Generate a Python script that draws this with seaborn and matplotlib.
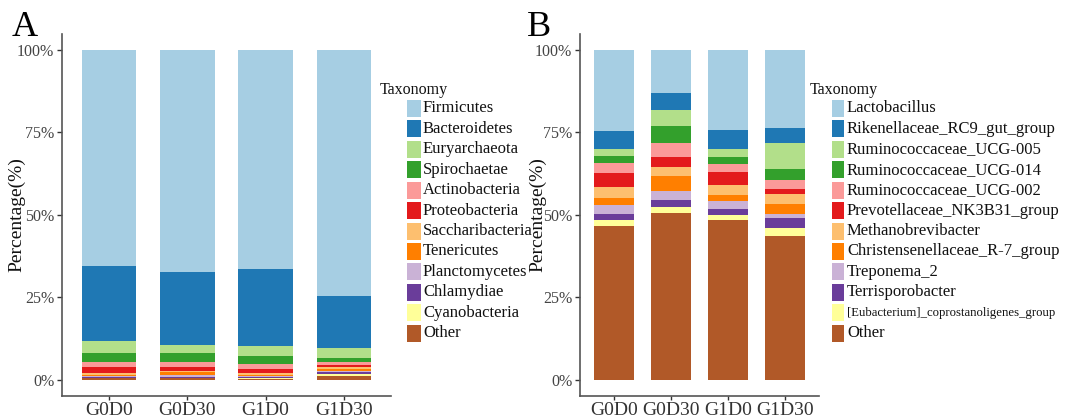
import numpy as np
import pandas as pd
import matplotlib
matplotlib.use("Agg")
import matplotlib.pyplot as plt
from matplotlib.patches import Rectangle
import seaborn as sns

# ---- data -------------------------------------------------------------
groups = ["G0D0", "G0D30", "G1D0", "G1D30"]

phyla = ["Firmicutes", "Bacteroidetes", "Euryarchaeota", "Spirochaetae",
         "Actinobacteria", "Proteobacteria", "Saccharibacteria", "Tenericutes",
         "Planctomycetes", "Chlamydiae", "Cyanobacteria", "Other"]
phylum_G0D0 = [65.4, 22.9, 3.6, 2.9, 1.5, 1.8, 0.4, 0.3, 0.5, 0.2, 0.1, 0.4]
phylum_G0D30 = [67.4, 22.0, 2.6, 2.8, 1.3, 1.3, 0.4, 0.9, 0.4, 0.3, 0.2, 0.4]
phylum_G1D0 = [66.6, 23.1, 3.3, 2.4, 1.5, 1.2, 0.4, 0.3, 0.5, 0.3, 0.1, 0.3]
phylum_G1D30 = [74.7, 15.6, 3.3, 1.1, 0.9, 0.6, 0.6, 0.6, 0.4, 0.6, 0.4, 1.2]

genera = ["Lactobacillus", "Rikenellaceae_RC9_gut_group", "Ruminococcaceae_UCG-005",
          "Ruminococcaceae_UCG-014", "Ruminococcaceae_UCG-002",
          "Prevotellaceae_NK3B31_group", "Methanobrevibacter",
          "Christensenellaceae_R-7_group", "Treponema_2", "Terrisporobacter",
          "[Eubacterium]_coprostanoligenes_group", "Other"]
genus_G0D0 = [24.5, 5.5, 2.3, 2.1, 3.0, 4.1, 3.3, 2.1, 3.0, 1.8, 1.6, 46.7]
genus_G0D30 = [13.2, 4.9, 4.9, 5.3, 4.1, 3.2, 2.6, 4.6, 2.6, 2.1, 2.0, 50.5]
genus_G1D0 = [24.4, 5.6, 2.5, 2.2, 2.4, 4.0, 2.9, 1.7, 2.7, 1.6, 1.6, 48.4]
genus_G1D30 = [23.8, 4.5, 7.7, 3.4, 2.9, 1.5, 3.0, 3.0, 1.2, 2.9, 2.6, 43.5]

yticks = [0, 25, 50, 75, 100]
ytick_labels = ["0%", "25%", "50%", "75%", "100%"]

# ---- style ------------------------------------------------------------
sns.set_theme(style="white")
plt.rcParams["font.family"] = ["Liberation Serif", "DejaVu Serif"]
palette = sns.color_palette("Paired", 12)

W, H = 1079, 417
fig = plt.figure(figsize=(W / 100, H / 100), dpi=100)


def px_axes(left, top, right, bottom):
    return fig.add_axes([left / W, 1 - bottom / H, (right - left) / W, (bottom - top) / H])


def long_table(taxa, columns):
    rows = []
    for g, vals in zip(groups, columns):
        # cumulative height from the bottom taxon ("Other") upward
        cum = np.cumsum(vals[::-1])[::-1]
        for t, v, c in zip(taxa, vals, cum):
            rows.append({"group": g, "taxon": t, "value": v, "top": c})
    return pd.DataFrame(rows)


def stacked(ax, taxa, columns, label_right):
    df = long_table(taxa, columns)
    # draw tallest layer first; each following layer covers the lower part
    for i, t in enumerate(taxa):
        sub = df[df["taxon"] == t]
        sns.barplot(data=sub, x="group", y="top", order=groups, color=palette[i],
                    width=0.7, linewidth=0, saturation=1,
                    errorbar=None, ax=ax)
    ax.set_xlim(-0.6, 3.6)
    ax.set_ylim(-5, 105)
    ax.set_yticks(yticks)
    ax.set_yticklabels(ytick_labels)
    ax.set_xlabel("")
    ax.set_ylabel("Percentage(%)", fontsize=14, color="#111111")
    # y title: its right edge placed just beside the tick labels
    pos = ax.get_position()
    ax.yaxis.set_label_coords((label_right - pos.x0 * W) / (pos.width * W), 0.5)
    for s in ["top", "right"]:
        ax.spines[s].set_visible(False)
    for s in ["left", "bottom"]:
        ax.spines[s].set_color("#555555")
        ax.spines[s].set_linewidth(1.2)
    ax.tick_params(axis="y", length=3.5, width=1, color="#333333",
                   labelsize=11.5, labelcolor="#444444", pad=2, left=True)
    ax.tick_params(axis="x", length=3, width=1, color="#333333",
                   labelsize=14, labelcolor="#333333", pad=1, bottom=True)


def legend(title_x, key_x, key_w, text_x, taxa, small=None):
    fig.text(title_x / W, 1 - 90 / H, "Taxonomy", fontsize=11.5,
             va="center", ha="left", color="#111111")
    for i, t in enumerate(taxa):
        cy = 108.3 + i * 20.45
        fig.patches.append(Rectangle((key_x / W, 1 - (cy + 8.5) / H), key_w / W, 17 / H,
                                     transform=fig.transFigure, facecolor=palette[i],
                                     edgecolor="none"))
        fs = 9.2 if (small is not None and t == small) else 12
        fig.text(text_x / W, 1 - cy / H, t, fontsize=fs, va="center", ha="left",
                 color="#111111")


axA = px_axes(62, 33.5, 391, 396)
stacked(axA, phyla, [phylum_G0D0, phylum_G0D30, phylum_G1D0, phylum_G1D30], 25)
axB = px_axes(580, 33.5, 819, 396)
stacked(axB, genera, [genus_G0D0, genus_G0D30, genus_G1D0, genus_G1D30], 546)

legend(380, 407, 14, 423, phyla)
legend(810, 832, 12, 847, genera, small="[Eubacterium]_coprostanoligenes_group")

fig.text(12 / W, 1 - 27 / H, "A", fontsize=26, va="center", ha="left", color="black")
fig.text(527 / W, 1 - 27 / H, "B", fontsize=26, va="center", ha="left", color="black")

fig.savefig("out.png", dpi=100, facecolor="white")
